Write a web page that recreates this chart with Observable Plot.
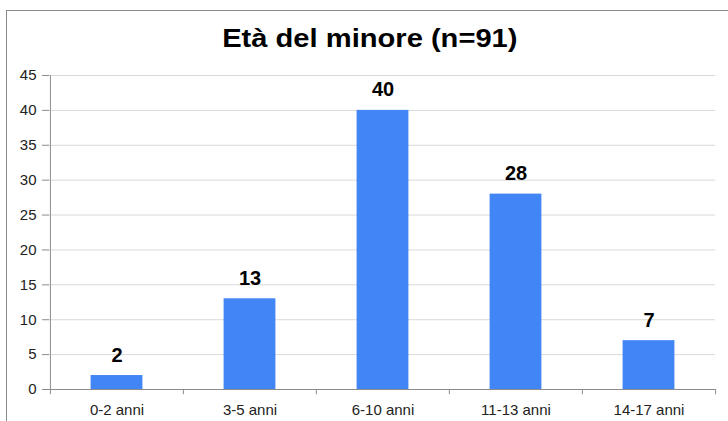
<!DOCTYPE html>
<html>
<head>
<meta charset="utf-8">
<script src="https://cdn.jsdelivr.net/npm/d3@7"></script>
<script src="https://cdn.jsdelivr.net/npm/@observablehq/plot@0.6"></script>
<style>
  html, body { margin: 0; padding: 0; background: #fff; }
  #wrap { position: relative; width: 728px; height: 421px; overflow: hidden; font-family: "Liberation Sans", Arial, sans-serif; }
  #frame { position: absolute; left: 6px; top: 10px; width: 800px; height: 500px; border-left: 1px solid #8a8a8a; border-top: 1px solid #8a8a8a; box-sizing: border-box; }
  #title { position: relative; height: 36px; padding-top: 26px; padding-left: 12px; font-size: 26px; line-height: 25px; font-weight: bold; text-align: center; color: #000; }
  #title span { display: inline-block; transform: scaleX(1.12); }
  #chart svg { display: block; }
</style>
</head>
<body>
<div id="wrap">
  <div id="frame"></div>
  <div id="title"><span>Età del minore (n=91)</span></div>
  <div id="chart"></div>
</div>
<script>
const categories = ["0-2 anni", "3-5 anni", "6-10 anni", "11-13 anni", "14-17 anni"];
const values = [2, 13, 40, 28, 7];
const yTicks = [0, 5, 10, 15, 20, 25, 30, 35, 40, 45];

const data = categories.map((c, i) => ({category: c, value: values[i]}));

const width = 728, height = 359;
const marginLeft = 49, marginRight = 13;
const step = (width - marginLeft - marginRight) / categories.length;
const barInset = (step - 52) / 2;

const chart = Plot.plot({
  width, height,
  marginLeft, marginRight,
  marginTop: 13, marginBottom: 32,
  style: {fontFamily: "'Liberation Sans', Arial, sans-serif", color: "#222", background: "#fff"},
  x: {domain: categories, padding: 0, label: null},
  y: {domain: [0, 45], label: null},
  marks: [
    Plot.ruleY(yTicks.filter(d => d > 0), {stroke: "#d9d9d9", strokeWidth: 1}),
    Plot.barY(data, {x: "category", y: "value", fill: "#4285f4", insetLeft: barInset, insetRight: barInset}),
    Plot.ruleY([0], {stroke: "#8c8c8c"}),
    Plot.ruleX([categories[0]], {x: d => d, dx: -step / 2, y1: 0, y2: 45, stroke: "#8c8c8c"}),
    Plot.ruleX(categories, {x: d => d, dx: -step / 2, y1: 0, y2: -0.75, stroke: "#8c8c8c"}),
    Plot.ruleX([categories[categories.length - 1]], {x: d => d, dx: step / 2, y1: 0, y2: -0.75, stroke: "#8c8c8c"}),
    Plot.axisY({ticks: yTicks, tickSize: 7, tickPadding: 6, stroke: "#8c8c8c", fontSize: 15, fill: "#222", label: null}),
    Plot.axisX({tickSize: 0, tickPadding: 15, fontSize: 15, fill: "#222", label: null}),
    Plot.text(data, {x: "category", y: "value", text: d => String(d.value), dy: -14, lineAnchor: "bottom", fontSize: 20, fontWeight: "bold", fill: "#000"})
  ]
});
document.getElementById("chart").appendChild(chart);
</script>
</body>
</html>
